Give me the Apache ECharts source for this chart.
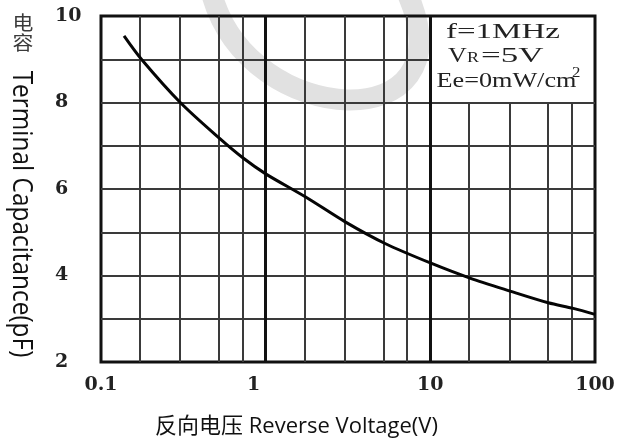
<!DOCTYPE html>
<html>
<head>
<meta charset="utf-8">
<script src="https://cdn.jsdelivr.net/npm/echarts@6/dist/echarts.min.js"></script>
<style>html,body{margin:0;padding:0;background:#fff;}#c{width:630px;height:442px;}</style>
</head>
<body>
<div id="c"></div>
<script>
// ---- data ----
const voltage = [0.138, 0.176, 0.303, 0.525, 0.733, 1, 1.74, 3.04, 5.31, 10, 17.4, 30.5, 52, 73.8, 100];
const capacitance = [9.54, 9.0, 8.0, 7.17, 6.71, 6.35, 5.82, 5.24, 4.74, 4.29, 3.94, 3.64, 3.37, 3.24, 3.10];
const xTickLabels = ['0.1', '1', '10', '100'];
const yTickLabels = ['2', '4', '6', '8', '10'];
const decadeLines = [1, 10];
const minorVLines = [0.172, 0.302, 0.519, 0.722, 1.72, 3.02, 5.19, 7.22];
const minorVLinesUpperDecade = [17.2, 30.2, 51.9, 72.2];
const hLinesFull = [3, 4, 5, 6, 7, 8];
const hLinesLeft = [9];
const conditions = ['f=1MHz', 'V', 'R', '=5V', 'Ee=0mW/cm', '2'];
const xTitle = '反向电压 Reverse Voltage(V)';
const yTitleCn = '电\n容';
const yTitleEn = 'Terminal Capacitance(pF)';

const X_MIN = 0.1, X_MAX = 100, Y_MIN = 2, Y_MAX = 10, BOX_Y = 8;

const chart = echarts.init(document.getElementById('c'), null, {renderer: 'canvas'});

function seg(x1, y1, x2, y2, width, color) {
  return [{coord: [x1, y1], lineStyle: {width: width, color: color, type: 'solid'}},
          {coord: [x2, y2]}];
}
const gridLineData = [];
hLinesFull.forEach(y => gridLineData.push(seg(X_MIN, y, X_MAX, y, 2, '#3a3a3a')));
hLinesLeft.forEach(y => gridLineData.push(seg(X_MIN, y, 10, y, 2, '#3a3a3a')));
minorVLines.forEach(x => gridLineData.push(seg(x, Y_MIN, x, Y_MAX, 2, '#3a3a3a')));
minorVLinesUpperDecade.forEach(x => gridLineData.push(seg(x, Y_MIN, x, BOX_Y, 2, '#3a3a3a')));
decadeLines.forEach(x => gridLineData.push(seg(x, Y_MIN, x, Y_MAX, 3, '#111')));

const serif = '"Liberation Serif", "Times New Roman", serif';
const tickFont = {color: '#222', fontFamily: '"DejaVu Serif", serif', fontWeight: 'bold', fontSize: 19};

const option = {
  animation: false,
  backgroundColor: '#fff',
  grid: {left: 101, right: 35, top: 16, bottom: 80, show: true, borderColor: '#111', borderWidth: 3, backgroundColor: 'transparent', z: 3},
  title: {
    text: xTitle, left: 155, top: 416, padding: 0,
    textStyle: {fontFamily: '"Open Sans", "Noto Sans CJK SC", sans-serif', fontSize: 22, fontWeight: 'normal', color: '#111'}
  },
  xAxis: {
    type: 'log', logBase: 10, min: X_MIN, max: X_MAX,
    axisLine: {show: false}, axisTick: {show: false}, splitLine: {show: false}, minorTick: {show: false},
    axisLabel: Object.assign({
      margin: 14,
      formatter: function (v) {
        const idx = Math.round(Math.log10(v) + 1);
        const t = xTickLabels[idx];
        if (t === undefined) return '';
        return idx === 1 ? '{one|' + t + '}' : t;
      },
      rich: {one: Object.assign({padding: [0, 24, 0, 0]}, tickFont)}
    }, tickFont)
  },
  yAxis: {
    type: 'value', min: Y_MIN, max: Y_MAX, interval: 2,
    axisLine: {show: false}, axisTick: {show: false}, splitLine: {show: false},
    axisLabel: Object.assign({
      margin: 46, align: 'left',
      formatter: function (v) {
        const idx = Math.round((v - Y_MIN) / 2);
        return yTickLabels[idx] !== undefined ? yTickLabels[idx] : '';
      }
    }, tickFont)
  },
  series: [
    {
      type: 'line', data: [], silent: true, z: 2,
      markLine: {silent: true, symbol: ['none', 'none'], label: {show: false}, animation: false, data: gridLineData}
    },
    {
      type: 'line', z: 5, smooth: 0.3, symbol: 'none', silent: true,
      lineStyle: {width: 3, color: '#050505'},
      data: voltage.map((v, i) => [v, capacitance[i]])
    }
  ],
  graphic: [
    {type: 'bezierCurve', z: -10, silent: true,
     shape: {x1: 212, y1: -5, cpx1: 250, cpy1: 130, cpx2: 470, cpy2: 140, x2: 408, y2: -5},
     style: {stroke: '#e1e1e1', lineWidth: 21, fill: null}},
    {type: 'text', x: 23, y: 13, scaleX: 1.1, z: 10,
     style: {text: yTitleCn, font: '19px "Noto Sans CJK SC"', fill: '#3a3a3a', lineHeight: 20, textAlign: 'center', align: 'center'}},
    {type: 'text', x: 21, y: 214, rotation: -Math.PI / 2, scaleX: 1.22, scaleY: 1.35, z: 10,
     style: {text: yTitleEn, font: '20px "Open Sans"', fill: '#111', textAlign: 'center', align: 'center', textVerticalAlign: 'middle', verticalAlign: 'middle'}},
    {type: 'text', x: 446, y: 32.5, scaleX: 1.65, z: 10,
     style: {text: conditions[0], font: '20px ' + serif, fill: '#222', textAlign: 'left', align: 'left', textVerticalAlign: 'middle', verticalAlign: 'middle'}},
    {type: 'text', x: 448, y: 56.5, scaleX: 1.3, z: 10,
     style: {text: conditions[1], font: '20px ' + serif, fill: '#222', textAlign: 'left', align: 'left', textVerticalAlign: 'middle', verticalAlign: 'middle'}},
    {type: 'text', x: 467, y: 58.5, scaleX: 1.2, z: 10,
     style: {text: conditions[2], font: '15px ' + serif, fill: '#222', textAlign: 'left', align: 'left', textVerticalAlign: 'middle', verticalAlign: 'middle'}},
    {type: 'text', x: 481, y: 56.5, scaleX: 1.75, z: 10,
     style: {text: conditions[3], font: '20px ' + serif, fill: '#222', textAlign: 'left', align: 'left', textVerticalAlign: 'middle', verticalAlign: 'middle'}},
    {type: 'text', x: 436.5, y: 81.5, scaleX: 1.31, z: 10,
     style: {text: conditions[4], font: '20px ' + serif, fill: '#222', textAlign: 'left', align: 'left', textVerticalAlign: 'middle', verticalAlign: 'middle'}},
    {type: 'text', x: 572, y: 73, scaleX: 1.2, z: 10,
     style: {text: conditions[5], font: '14px ' + serif, fill: '#222', textAlign: 'left', align: 'left', textVerticalAlign: 'middle', verticalAlign: 'middle'}}
  ]
};
chart.setOption(option);
</script>
</body>
</html>
